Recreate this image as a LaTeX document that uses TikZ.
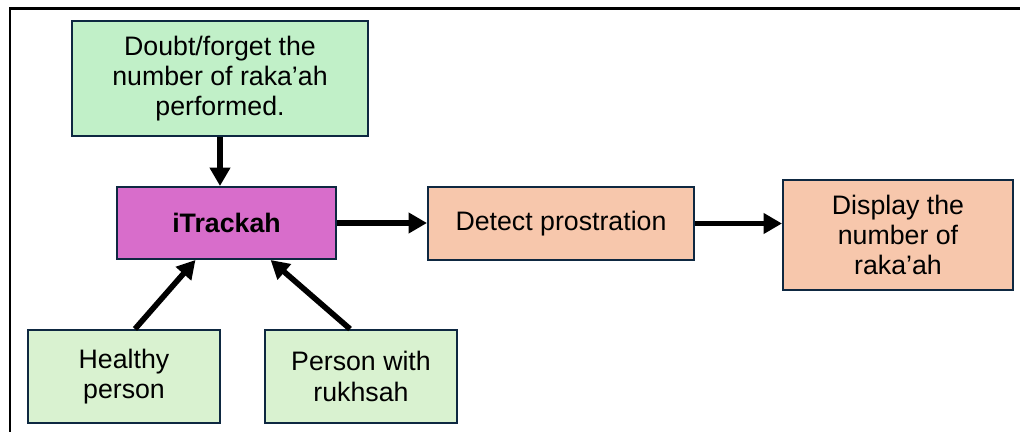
\documentclass[tikz,border=0pt]{standalone}
\usepackage{fontspec}
\setmainfont{Liberation Sans}
\usetikzlibrary{arrows.meta,positioning}
\definecolor{itgreen}{HTML}{C1F0C8}
\definecolor{itlightgreen}{HTML}{D9F2D0}
\definecolor{itmagenta}{HTML}{D86DCB}
\definecolor{itpeach}{HTML}{F7C7AC}
\definecolor{itborder}{HTML}{0E2841}

\begin{document}
\begin{tikzpicture}[x=0.025cm, y=-0.025cm,
  every node/.style={font=\fontsize{19}{21.5}\selectfont, align=center},
  box/.style={draw=itborder, line width=1.4pt, rectangle, inner sep=2pt},
  arr/.style={-{Triangle[length=13pt,width=14pt]}, line width=4pt}]
  \useasboundingbox (0,0) rectangle (1020,432);

  % Frame
  \draw[line width=1.6pt] (10,432) -- (10,8.5) -- (1020,8.5);

  % Trigger
  \node[box, fill=itgreen, minimum width=7.4cm, minimum height=2.875cm] (doubt) at (220,78.5) {Doubt/forget the\\number of raka’ah\\performed.};

  % App
  \node[box, fill=itmagenta, minimum width=5.475cm, minimum height=1.8cm] (itrackah) at (226.5,223) {\textbf{iTrackah}};
  \draw[arr] (doubt.south) -- (doubt.south |- itrackah.north);

  % Processing
  \node[box, fill=itpeach, minimum width=6.65cm, minimum height=1.825cm] (detect) at (561,223.5) {Detect prostration};
  \node[box, fill=itpeach, minimum width=5.75cm, minimum height=2.75cm] (display) at (898,235) {Display the\\number of\\raka’ah};
  \draw[arr] (itrackah.east) -- (detect.west |- itrackah.east);
  \draw[arr] (detect.east) -- (display.west |- detect.east);

  % Users
  \node[box, fill=itlightgreen, minimum width=4.8cm, minimum height=2.325cm] (healthy) at (124,376.5) {Healthy\\person};
  \node[box, fill=itlightgreen, minimum width=4.8cm, minimum height=2.325cm] (rukhsah) at (361,376.5) {Person with\\rukhsah};
  \draw[arr] (healthy.77) -- (itrackah.230);
  \draw[arr] (rukhsah.103) -- (itrackah.320);
\end{tikzpicture}
\end{document}
